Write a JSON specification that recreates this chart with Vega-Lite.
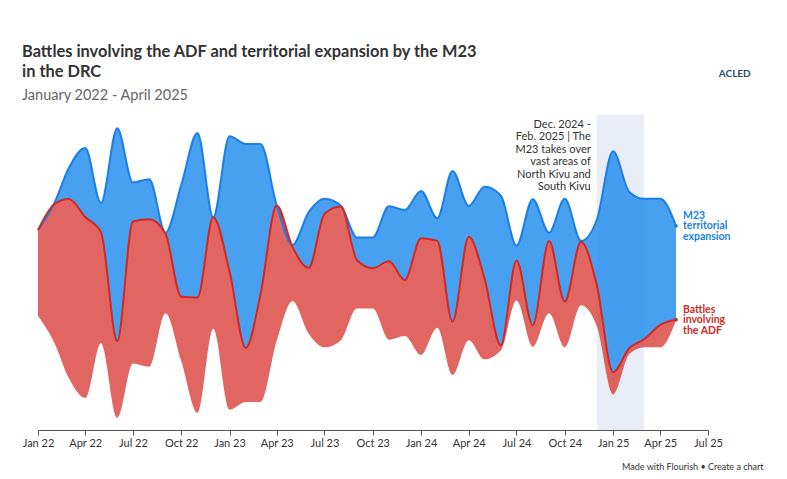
{
  "$schema": "https://vega.github.io/schema/vega-lite/v6.json",
  "width": 670,
  "height": 315,
  "autosize": {"type": "none"},
  "padding": {"left": 38, "top": 115, "right": 79, "bottom": 49},
  "background": "white",
  "config": {"view": {"stroke": null}, "font": "Lato"},
  "title": {
    "text": ["Battles involving the ADF and territorial expansion by the M23", "in the DRC"],
    "subtitle": "January 2022 - April 2025",
    "anchor": "start",
    "frame": "group",
    "dx": -16,
    "font": "Lato",
    "fontSize": 16.4,
    "fontWeight": "bold",
    "color": "#333333",
    "lineHeight": 20,
    "subtitleFont": "Lato",
    "subtitleFontSize": 14.5,
    "subtitleColor": "#666666",
    "subtitlePadding": 8,
    "offset": -33
  },
  "datasets": {
    "series": [
      {"date": "2022-01-01", "series": "M23 territorial expansion", "value": 0},
      {"date": "2022-01-01", "series": "Battles involving the ADF", "value": 85.7},
      {"date": "2022-02-01", "series": "M23 territorial expansion", "value": 1},
      {"date": "2022-02-01", "series": "Battles involving the ADF", "value": 138.4},
      {"date": "2022-03-01", "series": "M23 territorial expansion", "value": 31.3},
      {"date": "2022-03-01", "series": "Battles involving the ADF", "value": 179.3},
      {"date": "2022-04-01", "series": "M23 territorial expansion", "value": 69},
      {"date": "2022-04-01", "series": "Battles involving the ADF", "value": 181},
      {"date": "2022-05-01", "series": "M23 territorial expansion", "value": 29.3},
      {"date": "2022-05-01", "series": "Battles involving the ADF", "value": 111},
      {"date": "2022-06-01", "series": "M23 territorial expansion", "value": 212.7},
      {"date": "2022-06-01", "series": "Battles involving the ADF", "value": 76.7},
      {"date": "2022-07-01", "series": "M23 territorial expansion", "value": 39},
      {"date": "2022-07-01", "series": "Battles involving the ADF", "value": 142},
      {"date": "2022-08-01", "series": "M23 territorial expansion", "value": 40},
      {"date": "2022-08-01", "series": "Battles involving the ADF", "value": 147.7},
      {"date": "2022-09-01", "series": "M23 territorial expansion", "value": 1},
      {"date": "2022-09-01", "series": "Battles involving the ADF", "value": 79.7},
      {"date": "2022-10-01", "series": "M23 territorial expansion", "value": 111.7},
      {"date": "2022-10-01", "series": "Battles involving the ADF", "value": 64.3},
      {"date": "2022-11-01", "series": "M23 territorial expansion", "value": 164.4},
      {"date": "2022-11-01", "series": "Battles involving the ADF", "value": 115.6},
      {"date": "2022-12-01", "series": "M23 territorial expansion", "value": 0},
      {"date": "2022-12-01", "series": "Battles involving the ADF", "value": 111.7},
      {"date": "2023-01-01", "series": "M23 territorial expansion", "value": 135},
      {"date": "2023-01-01", "series": "Battles involving the ADF", "value": 138.3},
      {"date": "2023-02-01", "series": "M23 territorial expansion", "value": 204},
      {"date": "2023-02-01", "series": "Battles involving the ADF", "value": 54},
      {"date": "2023-03-01", "series": "M23 territorial expansion", "value": 150.7},
      {"date": "2023-03-01", "series": "Battles involving the ADF", "value": 107.3},
      {"date": "2023-04-01", "series": "M23 territorial expansion", "value": 0},
      {"date": "2023-04-01", "series": "Battles involving the ADF", "value": 135},
      {"date": "2023-05-01", "series": "M23 territorial expansion", "value": 2},
      {"date": "2023-05-01", "series": "Battles involving the ADF", "value": 54.3},
      {"date": "2023-06-01", "series": "M23 territorial expansion", "value": 55.7},
      {"date": "2023-06-01", "series": "Battles involving the ADF", "value": 66},
      {"date": "2023-07-01", "series": "M23 territorial expansion", "value": 15.3},
      {"date": "2023-07-01", "series": "Battles involving the ADF", "value": 133.4},
      {"date": "2023-08-01", "series": "M23 territorial expansion", "value": 1},
      {"date": "2023-08-01", "series": "Battles involving the ADF", "value": 134},
      {"date": "2023-09-01", "series": "M23 territorial expansion", "value": 22.7},
      {"date": "2023-09-01", "series": "Battles involving the ADF", "value": 48.3},
      {"date": "2023-10-01", "series": "M23 territorial expansion", "value": 30.7},
      {"date": "2023-10-01", "series": "Battles involving the ADF", "value": 40.3},
      {"date": "2023-11-01", "series": "M23 territorial expansion", "value": 55},
      {"date": "2023-11-01", "series": "Battles involving the ADF", "value": 78.3},
      {"date": "2023-12-01", "series": "M23 territorial expansion", "value": 70},
      {"date": "2023-12-01", "series": "Battles involving the ADF", "value": 56},
      {"date": "2024-01-01", "series": "M23 territorial expansion", "value": 47.3},
      {"date": "2024-01-01", "series": "Battles involving the ADF", "value": 116.7},
      {"date": "2024-02-01", "series": "M23 territorial expansion", "value": 22.7},
      {"date": "2024-02-01", "series": "Battles involving the ADF", "value": 87},
      {"date": "2024-03-01", "series": "M23 territorial expansion", "value": 150.7},
      {"date": "2024-03-01", "series": "Battles involving the ADF", "value": 53.3},
      {"date": "2024-04-01", "series": "M23 territorial expansion", "value": 31},
      {"date": "2024-04-01", "series": "Battles involving the ADF", "value": 103.3},
      {"date": "2024-05-01", "series": "M23 territorial expansion", "value": 91.6},
      {"date": "2024-05-01", "series": "Battles involving the ADF", "value": 81},
      {"date": "2024-06-01", "series": "M23 territorial expansion", "value": 150},
      {"date": "2024-06-01", "series": "Battles involving the ADF", "value": 5},
      {"date": "2024-07-01", "series": "M23 territorial expansion", "value": 15},
      {"date": "2024-07-01", "series": "Battles involving the ADF", "value": 40},
      {"date": "2024-08-01", "series": "M23 territorial expansion", "value": 126},
      {"date": "2024-08-01", "series": "Battles involving the ADF", "value": 21.7},
      {"date": "2024-09-01", "series": "M23 territorial expansion", "value": 8.4},
      {"date": "2024-09-01", "series": "Battles involving the ADF", "value": 72.3},
      {"date": "2024-10-01", "series": "M23 territorial expansion", "value": 102.7},
      {"date": "2024-10-01", "series": "Battles involving the ADF", "value": 45.6},
      {"date": "2024-11-01", "series": "M23 territorial expansion", "value": 1},
      {"date": "2024-11-01", "series": "Battles involving the ADF", "value": 63.3},
      {"date": "2024-12-01", "series": "M23 territorial expansion", "value": 65},
      {"date": "2024-12-01", "series": "Battles involving the ADF", "value": 41},
      {"date": "2025-01-01", "series": "M23 territorial expansion", "value": 221},
      {"date": "2025-01-01", "series": "Battles involving the ADF", "value": 22.3},
      {"date": "2025-02-01", "series": "M23 territorial expansion", "value": 156},
      {"date": "2025-02-01", "series": "Battles involving the ADF", "value": 6},
      {"date": "2025-03-01", "series": "M23 territorial expansion", "value": 140.5},
      {"date": "2025-03-01", "series": "Battles involving the ADF", "value": 7.8},
      {"date": "2025-04-01", "series": "M23 territorial expansion", "value": 126},
      {"date": "2025-04-01", "series": "Battles involving the ADF", "value": 22.3},
      {"date": "2025-05-01", "series": "M23 territorial expansion", "value": 93.8},
      {"date": "2025-05-01", "series": "Battles involving the ADF", "value": 0.5}
    ],
    "band": [
      {"start": "2024-12-01", "end": "2025-03-01", "level": 292.7, "note": ["Dec. 2024 -", "Feb. 2025 | The", "M23 takes over", "vast areas of", "North Kivu and", "South Kivu"]}
    ],
    "logo": [
      {"date": "2025-08-21", "level": 343.7, "name": "ACLED"}
    ]
  },
  "layer": [
    {
      "data": {"name": "band"},
      "mark": {"type": "rect", "color": "#e8edf6"},
      "encoding": {
        "x": {
          "field": "start",
          "type": "temporal",
          "scale": {"type": "utc", "domain": [{"year": 2022, "month": 1, "date": 1, "utc": true}, {"year": 2025, "month": 7, "date": 1, "utc": true}]},
          "axis": {
            "format": "%b %y",
            "tickCount": {"interval": "month", "step": 3},
            "labelFont": "Lato",
            "labelFontSize": 11,
            "labelColor": "#333333",
            "labelFlush": false,
            "labelOverlap": false,
            "labelPadding": 2,
            "domainColor": "#555555",
            "tickColor": "#555555",
            "tickSize": 5,
            "grid": false,
            "title": "Made with Flourish • Create a chart",
            "titleFont": "Lato",
            "titleFontSize": 9,
            "titleFontWeight": "normal",
            "titleColor": "#333333",
            "titleAnchor": "end",
            "titleAlign": "right",
            "titleBaseline": "alphabetic",
            "titleX": 725,
            "titleY": 39
          }
        },
        "x2": {"field": "end"}
      }
    },
    {
      "data": {"name": "series"},
      "transform": [
        {"stack": "value", "groupby": ["date"], "sort": [{"field": "series", "order": "ascending"}], "offset": "center", "as": ["v0", "v1"]}
      ],
      "layer": [
        {
          "mark": {"type": "area", "interpolate": "monotone", "fillOpacity": 0.8},
          "encoding": {
            "x": {"field": "date", "type": "temporal", "title": "Made with Flourish • Create a chart"},
            "y": {"field": "v1", "type": "quantitative", "stack": null, "scale": {"domain": [-12.3, 302.7], "nice": false, "zero": false}, "axis": null},
            "y2": {"field": "v0"},
            "fill": {"field": "series", "type": "nominal", "scale": {"domain": ["Battles involving the ADF", "M23 territorial expansion"], "range": ["#da3f38", "#1a88ee"]}, "legend": null}
          }
        },
        {
          "mark": {"type": "line", "interpolate": "monotone", "strokeWidth": 2},
          "encoding": {
            "x": {"field": "date", "type": "temporal", "title": "Made with Flourish • Create a chart"},
            "y": {"field": "v1", "type": "quantitative", "stack": null, "axis": null},
            "stroke": {"field": "series", "type": "nominal", "scale": {"domain": ["Battles involving the ADF", "M23 territorial expansion"], "range": ["#d02a22", "#1a7fe6"]}, "legend": null}
          }
        },
        {
          "transform": [{"filter": "utcyear(datum.date) === 2025 && utcmonth(datum.date) === 4"}],
          "mark": {"type": "circle", "size": 14, "opacity": 1},
          "encoding": {
            "x": {"field": "date", "type": "temporal", "title": "Made with Flourish • Create a chart"},
            "y": {"field": "v1", "type": "quantitative", "stack": null, "axis": null},
            "color": {"field": "series", "type": "nominal", "scale": {"domain": ["Battles involving the ADF", "M23 territorial expansion"], "range": ["#d02a22", "#1a7fe6"]}, "legend": null}
          }
        },
        {
          "transform": [{"filter": "utcyear(datum.date) === 2025 && utcmonth(datum.date) === 4 && datum.series === 'M23 territorial expansion'"}],
          "mark": {"type": "text", "align": "left", "baseline": "middle", "dx": 7, "dy": -10, "font": "Lato", "fontSize": 10.5, "fontWeight": "bold", "lineHeight": 10.5, "color": "#1a7fe6"},
          "encoding": {
            "x": {"field": "date", "type": "temporal", "title": "Made with Flourish • Create a chart"},
            "y": {"field": "v1", "type": "quantitative", "stack": null, "axis": null},
            "text": {"value": ["M23", "territorial", "expansion"]}
          }
        },
        {
          "transform": [{"filter": "utcyear(datum.date) === 2025 && utcmonth(datum.date) === 4 && datum.series === 'Battles involving the ADF'"}],
          "mark": {"type": "text", "align": "left", "baseline": "middle", "dx": 7, "dy": -10, "font": "Lato", "fontSize": 10.5, "fontWeight": "bold", "lineHeight": 10.5, "color": "#d02a22"},
          "encoding": {
            "x": {"field": "date", "type": "temporal", "title": "Made with Flourish • Create a chart"},
            "y": {"field": "v1", "type": "quantitative", "stack": null, "axis": null},
            "text": {"value": ["Battles", "involving", "the ADF"]}
          }
        }
      ]
    },
    {
      "data": {"name": "band"},
      "mark": {"type": "text", "align": "right", "baseline": "middle", "dx": -6, "font": "Lato", "fontSize": 11, "lineHeight": 12.4, "color": "#333333"},
      "encoding": {
        "x": {"field": "start", "type": "temporal", "title": "Made with Flourish • Create a chart"},
        "y": {"field": "level", "type": "quantitative", "axis": null},
        "text": {"field": "note"}
      }
    },
    {
      "data": {"name": "logo"},
      "mark": {"type": "text", "align": "center", "baseline": "middle", "font": "Lato", "fontSize": 10, "fontWeight": "bold", "color": "#2a4a70"},
      "encoding": {
        "x": {"field": "date", "type": "temporal", "title": "Made with Flourish • Create a chart"},
        "y": {"field": "level", "type": "quantitative", "axis": null},
        "text": {"field": "name"}
      }
    }
  ]
}
